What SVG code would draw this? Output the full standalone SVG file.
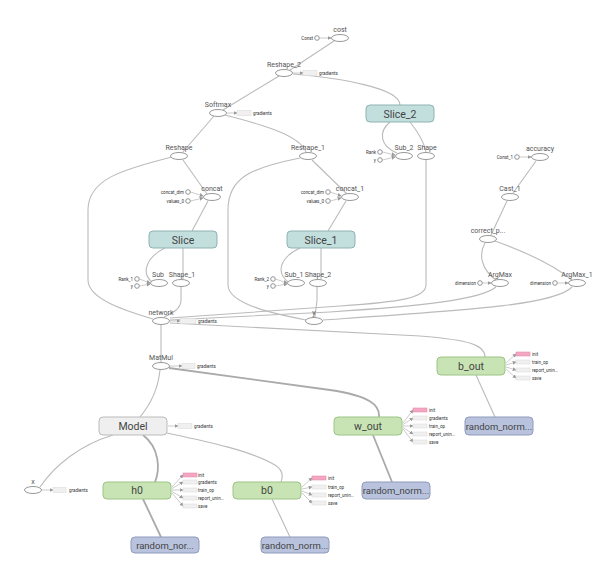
<svg xmlns="http://www.w3.org/2000/svg" width="616" height="571" viewBox="0 0 616 571">
<defs>
<marker id="ah" viewBox="0 0 6 6" refX="5" refY="3" markerWidth="4" markerHeight="4" orient="auto" markerUnits="userSpaceOnUse">
<path d="M0,0 L6,3 L0,6 Z" fill="#999"/>
</marker>
<style>
.e{fill:#fff;stroke:#999;stroke-width:1}
.c{fill:#fff;stroke:#888;stroke-width:0.9}
.l{font-family:Roboto,"Liberation Sans",sans-serif;font-size:7px;fill:#555;text-anchor:middle}
.s{font-family:Roboto,"Liberation Sans",sans-serif;font-size:4.5px;fill:#333}
.sr{font-family:Roboto,"Liberation Sans",sans-serif;font-size:4.5px;fill:#333;text-anchor:end}
.big{font-family:Roboto,"Liberation Sans",sans-serif;font-size:10.5px;fill:#444;text-anchor:middle}
.rn{font-size:9.5px}
.teal{fill:#c2dedd;stroke:#8fb3b2;stroke-width:1}
.green{fill:#c8e4b4;stroke:#9cc486;stroke-width:1}
.gray{fill:#efefef;stroke:#bbb;stroke-width:1}
.blue{fill:#b9c3dd;stroke:#8f9bbd;stroke-width:1}
.gb{fill:#f0f0f0;stroke:#ddd;stroke-width:0.6}
.pk{fill:#f3a6c1;stroke:#e68fb0;stroke-width:0.6}
.ed path,.ed line{fill:none;stroke:#bbb;stroke-width:1.1}
.ed .t{stroke-width:1.8;stroke:#aaa}
.ed .sm{stroke-width:0.6;stroke:#aaa}
</style>
</defs>
<rect width="616" height="571" fill="#fff"/>

<g id="connectors" class="ed">
<line x1="319.5" y1="38" x2="331" y2="38" class="sm" marker-end="url(#ah)"/>
<path d="M290,70 L334,41"/>
<path d="M223,110 L279,76"/>
<path d="M400,105 C400,88 340,78 293,74"/>
<path d="M182,153 L214,116"/>
<path d="M225,115 C260,124 300,135 306,152"/>
<path d="M207,194 L183,160"/>
<line x1="190.5" y1="192" x2="203" y2="196" class="sm" marker-end="url(#ah)"/>
<line x1="190.5" y1="201" x2="203" y2="198" class="sm" marker-end="url(#ah)"/>
<path d="M192,231 L208,201"/>
<path d="M165,248 C148,256 140,272 152,282"/>
<path d="M183,279 L183,248"/>
<line x1="139.5" y1="279" x2="150" y2="283" class="sm" marker-end="url(#ah)"/>
<line x1="139.5" y1="286" x2="150" y2="284" class="sm" marker-end="url(#ah)"/>
<path d="M172,157 C120,170 88,180 88,210 L88,280 C88,300 130,312 153,319"/>
<path d="M181,287 L181,300 C181,310 170,314 164,317"/>
<path d="M347,194 L312,160"/>
<line x1="330.5" y1="192" x2="341" y2="196" class="sm" marker-end="url(#ah)"/>
<line x1="330.5" y1="201" x2="341" y2="198" class="sm" marker-end="url(#ah)"/>
<path d="M328,231 L346,201"/>
<path d="M300,248 C283,256 274,270 288,282"/>
<path d="M321,279 L321,248"/>
<line x1="275.5" y1="279" x2="287" y2="283" class="sm" marker-end="url(#ah)"/>
<line x1="275.5" y1="286" x2="287" y2="284" class="sm" marker-end="url(#ah)"/>
<path d="M300,158 C250,168 228,178 228,210 L228,285 C228,305 280,315 306,320"/>
<path d="M317,287 L317,300 L315,317"/>
<path d="M390,122 C378,132 380,146 397,153"/>
<path d="M410,122 C418,132 424,142 426,152"/>
<line x1="382.5" y1="152" x2="395" y2="155" class="sm" marker-end="url(#ah)"/>
<line x1="382.5" y1="160" x2="395" y2="157" class="sm" marker-end="url(#ah)"/>
<path d="M426,160 L426,285 C426,298 400,302 340,306 L170,318"/>
<path d="M496,287 C480,300 420,306 330,312 L170,320"/>
<path d="M572,287 C555,305 470,310 323,320"/>
<path d="M170,323 L420,336 C470,340 485,345 485,357"/>
<path d="M161,325 L161,362"/>
<path d="M169,368 L330,390 C370,396 380,405 379,417" class="t"/>
<path d="M160,370 C158,390 150,405 140,417"/>
<path d="M113,435 C80,445 55,465 40,487"/>
<path d="M143,435 C160,448 160,470 155,482" class="t"/>
<path d="M167,433 C200,440 250,450 275,465 C283,470 283,477 281,482"/>
<path d="M143,499 L161,537" class="t"/>
<path d="M272,499 L290,537"/>
<path d="M373,435 L392,482" class="t"/>
<path d="M476,375 L495,417"/>
<line x1="519.5" y1="157" x2="531" y2="157" class="sm" marker-end="url(#ah)"/>
<path d="M513,193 L536,161"/>
<path d="M491,235 L507,201"/>
<path d="M496,280 C482,270 478,255 485,243"/>
<path d="M572,280 C550,262 520,250 495,241"/>
<line x1="482.5" y1="283" x2="491" y2="283" class="sm" marker-end="url(#ah)"/>
<line x1="557.5" y1="283" x2="568" y2="283" class="sm" marker-end="url(#ah)"/>
<line x1="292.5" y1="73" x2="303" y2="73" class="sm" marker-end="url(#ah)"/>
<line x1="226.5" y1="113" x2="237" y2="113" class="sm" marker-end="url(#ah)"/>
<line x1="169.5" y1="321" x2="180" y2="321" class="sm" marker-end="url(#ah)"/>
<line x1="169.5" y1="366" x2="182" y2="366" class="sm" marker-end="url(#ah)"/>
<line x1="168" y1="426" x2="178" y2="426" class="sm" marker-end="url(#ah)"/>
<line x1="41.5" y1="490" x2="53" y2="490" class="sm" marker-end="url(#ah)"/>
<line x1="172" y1="487" x2="183" y2="475" class="sm" marker-end="url(#ah)"/>
<line x1="172" y1="488.5" x2="183" y2="482" class="sm" marker-end="url(#ah)"/>
<line x1="172" y1="490" x2="183" y2="490" class="sm" marker-end="url(#ah)"/>
<line x1="172" y1="491.5" x2="183" y2="498" class="sm" marker-end="url(#ah)"/>
<line x1="172" y1="493" x2="183" y2="506" class="sm" marker-end="url(#ah)"/>
<line x1="302" y1="487" x2="312" y2="478" class="sm" marker-end="url(#ah)"/>
<line x1="302" y1="489" x2="312" y2="487" class="sm" marker-end="url(#ah)"/>
<line x1="302" y1="491" x2="312" y2="495" class="sm" marker-end="url(#ah)"/>
<line x1="302" y1="493" x2="312" y2="503" class="sm" marker-end="url(#ah)"/>
<line x1="403" y1="423" x2="413" y2="410" class="sm" marker-end="url(#ah)"/>
<line x1="403" y1="424.5" x2="413" y2="418" class="sm" marker-end="url(#ah)"/>
<line x1="403" y1="426" x2="413" y2="426" class="sm" marker-end="url(#ah)"/>
<line x1="403" y1="427.5" x2="413" y2="434" class="sm" marker-end="url(#ah)"/>
<line x1="403" y1="429" x2="413" y2="442" class="sm" marker-end="url(#ah)"/>
<line x1="506" y1="363" x2="516" y2="354" class="sm" marker-end="url(#ah)"/>
<line x1="506" y1="365" x2="516" y2="362" class="sm" marker-end="url(#ah)"/>
<line x1="506" y1="367" x2="516" y2="370" class="sm" marker-end="url(#ah)"/>
<line x1="506" y1="369" x2="516" y2="378" class="sm" marker-end="url(#ah)"/>
</g>

<g id="cost"><ellipse class="e" cx="340" cy="38" rx="8.5" ry="3.5"/><text class="l" x="340" y="32">cost</text></g>
<g id="Const"><circle class="c" cx="317" cy="38" r="2.3"/><text class="sr" x="313" y="39.6">Const</text></g>
<g id="Reshape_2"><ellipse class="e" cx="284" cy="73" rx="8.5" ry="3.5"/><text class="l" x="284" y="67">Reshape_2</text>
<rect class="gb" x="303" y="70.5" width="14" height="5"/><text class="s" x="319" y="74.6">gradients</text></g>
<g id="Softmax"><ellipse class="e" cx="218" cy="113" rx="8.5" ry="3.5"/><text class="l" x="218" y="107">Softmax</text>
<rect class="gb" x="237" y="110.5" width="14" height="5"/><text class="s" x="253" y="114.6">gradients</text></g>
<g id="Slice_2"><rect class="teal" x="366" y="105" width="68" height="17" rx="4"/><text class="big" x="400" y="117.5">Slice_2</text></g>
<g id="Reshape"><ellipse class="e" cx="179" cy="156" rx="8.5" ry="3.5"/><text class="l" x="179" y="150">Reshape</text></g>
<g id="Reshape_1"><ellipse class="e" cx="308" cy="156" rx="8.5" ry="3.5"/><text class="l" x="308" y="150">Reshape_1</text></g>
<g id="Sub_2"><ellipse class="e" cx="404" cy="156" rx="8.5" ry="3.5"/><text class="l" x="404" y="150">Sub_2</text></g>
<g id="Shape"><ellipse class="e" cx="426" cy="156" rx="8.5" ry="3.5"/><text class="l" x="427" y="150">Shape</text></g>
<g id="Rank"><circle class="c" cx="380" cy="152" r="2.3"/><text class="sr" x="376" y="153.6">Rank</text></g>
<g id="y_2"><circle class="c" cx="380" cy="160" r="2.3"/><text class="sr" x="376" y="161.6">y</text></g>
<g id="concat"><ellipse class="e" cx="212" cy="197" rx="8.5" ry="3.5"/><text class="l" x="212" y="191">concat</text></g>
<g id="concat_dim"><circle class="c" cx="188" cy="192" r="2.3"/><text class="sr" x="184" y="193.6">concat_dim</text></g>
<g id="values_0"><circle class="c" cx="188" cy="201" r="2.3"/><text class="sr" x="184" y="202.6">values_0</text></g>
<g id="concat_1"><ellipse class="e" cx="350" cy="197" rx="8.5" ry="3.5"/><text class="l" x="350" y="191">concat_1</text></g>
<g id="concat_dim_1"><circle class="c" cx="328" cy="192" r="2.3"/><text class="sr" x="324" y="193.6">concat_dim</text></g>
<g id="values_0_1"><circle class="c" cx="328" cy="201" r="2.3"/><text class="sr" x="324" y="202.6">values_0</text></g>
<g id="Slice"><rect class="teal" x="149" y="231" width="68" height="17" rx="4"/><text class="big" x="183" y="243.5">Slice</text></g>
<g id="Slice_1"><rect class="teal" x="287" y="231" width="68" height="17" rx="4"/><text class="big" x="321" y="243.5">Slice_1</text></g>
<g id="Sub"><ellipse class="e" cx="159" cy="283" rx="8.5" ry="3.5"/><text class="l" x="158" y="277">Sub</text></g>
<g id="Shape_1"><ellipse class="e" cx="181" cy="283" rx="8.5" ry="3.5"/><text class="l" x="182" y="277">Shape_1</text></g>
<g id="Rank_1"><circle class="c" cx="137" cy="279" r="2.3"/><text class="sr" x="133" y="280.6">Rank_1</text></g>
<g id="y_1"><circle class="c" cx="137" cy="286" r="2.3"/><text class="sr" x="133" y="287.6">y</text></g>
<g id="Sub_1"><ellipse class="e" cx="296" cy="283" rx="8.5" ry="3.5"/><text class="l" x="294" y="277">Sub_1</text></g>
<g id="Shape_2"><ellipse class="e" cx="318" cy="283" rx="8.5" ry="3.5"/><text class="l" x="318" y="277">Shape_2</text></g>
<g id="Rank_2"><circle class="c" cx="273" cy="279" r="2.3"/><text class="sr" x="269" y="280.6">Rank_2</text></g>
<g id="y_3"><circle class="c" cx="273" cy="286" r="2.3"/><text class="sr" x="269" y="287.6">y</text></g>
<g id="accuracy"><ellipse class="e" cx="540" cy="157" rx="8.5" ry="3.5"/><text class="l" x="540" y="151">accuracy</text></g>
<g id="Const_1"><circle class="c" cx="517" cy="157" r="2.3"/><text class="sr" x="513" y="158.6">Const_1</text></g>
<g id="Cast_1"><ellipse class="e" cx="510" cy="197" rx="8.5" ry="3.5"/><text class="l" x="510" y="191">Cast_1</text></g>
<g id="correct_pred"><ellipse class="e" cx="488" cy="239" rx="8.5" ry="3.5"/><text class="l" x="488" y="233">correct_p...</text></g>
<g id="ArgMax"><ellipse class="e" cx="500" cy="283" rx="8.5" ry="3.5"/><text class="l" x="500" y="277">ArgMax</text></g>
<g id="dimension"><circle class="c" cx="480" cy="283" r="2.3"/><text class="sr" x="476" y="284.6">dimension</text></g>
<g id="ArgMax_1"><ellipse class="e" cx="577" cy="283" rx="8.5" ry="3.5"/><text class="l" x="577" y="277">ArgMax_1</text></g>
<g id="dimension_1"><circle class="c" cx="555" cy="283" r="2.3"/><text class="sr" x="551" y="284.6">dimension</text></g>
<g id="network"><ellipse class="e" cx="161" cy="321" rx="8.5" ry="3.5"/><text class="l" x="161" y="315">network</text>
<rect class="gb" x="180" y="318.5" width="16" height="5"/><text class="s" x="198" y="322.6">gradients</text></g>
<g id="y"><ellipse class="e" cx="314" cy="321" rx="8.5" ry="3.5"/><text class="l" x="314" y="315">y</text></g>
<g id="MatMul"><ellipse class="e" cx="161" cy="366" rx="8.5" ry="3.5"/><text class="l" x="161" y="360">MatMul</text>
<rect class="gb" x="182" y="363.5" width="13" height="5"/><text class="s" x="197" y="367.6">gradients</text></g>
<g id="b_out"><rect class="green" x="437" y="357" width="68" height="18" rx="4"/><text class="big" x="471" y="369.5">b_out</text>
<rect class="pk" x="516" y="352" width="14" height="4"/><text class="s" x="532" y="355.6">init</text>
<rect class="gb" x="516" y="360" width="14" height="4"/><text class="s" x="532" y="363.6">train_op</text>
<rect class="gb" x="516" y="368" width="14" height="4"/><text class="s" x="532" y="371.6">report_unin...</text>
<rect class="gb" x="516" y="376" width="14" height="4"/><text class="s" x="532" y="379.6">save</text></g>
<g id="Model"><rect class="gray" x="99" y="417" width="68" height="18" rx="4"/><text class="big" x="133" y="429.5">Model</text>
<rect class="gb" x="178" y="423.5" width="14" height="5"/><text class="s" x="194" y="427.6">gradients</text></g>
<g id="w_out"><rect class="green" x="334" y="417" width="68" height="18" rx="4"/><text class="big" x="368" y="429.5">w_out</text>
<rect class="pk" x="413" y="408" width="14" height="4"/><text class="s" x="429" y="411.6">init</text>
<rect class="gb" x="413" y="416" width="14" height="4"/><text class="s" x="429" y="419.6">gradients</text>
<rect class="gb" x="413" y="424" width="14" height="4"/><text class="s" x="429" y="427.6">train_op</text>
<rect class="gb" x="413" y="432" width="14" height="4"/><text class="s" x="429" y="435.6">report_unin...</text>
<rect class="gb" x="413" y="440" width="14" height="4"/><text class="s" x="429" y="443.6">save</text></g>
<g id="random_normal_out"><rect class="blue" x="465" y="417" width="68" height="18" rx="4"/><text class="big rn" x="499" y="429.5">random_norm...</text></g>
<g id="x"><ellipse class="e" cx="33" cy="490" rx="8.5" ry="3.5"/><text class="l" x="33" y="484">x</text>
<rect class="gb" x="53" y="487.5" width="13" height="5"/><text class="s" x="69" y="491.6">gradients</text></g>
<g id="h0"><rect class="green" x="103" y="482" width="68" height="17" rx="4"/><text class="big" x="137" y="494">h0</text>
<rect class="pk" x="183" y="473" width="14" height="4"/><text class="s" x="198" y="476.6">init</text>
<rect class="gb" x="183" y="480" width="14" height="4"/><text class="s" x="198" y="483.6">gradients</text>
<rect class="gb" x="183" y="488" width="14" height="4"/><text class="s" x="198" y="491.6">train_op</text>
<rect class="gb" x="183" y="496" width="14" height="4"/><text class="s" x="198" y="499.6">report_unin...</text>
<rect class="gb" x="183" y="504" width="14" height="4"/><text class="s" x="198" y="507.6">save</text></g>
<g id="b0"><rect class="green" x="233" y="482" width="68" height="17" rx="4"/><text class="big" x="267" y="494">b0</text>
<rect class="pk" x="312" y="476" width="14" height="4"/><text class="s" x="328" y="479.6">init</text>
<rect class="gb" x="312" y="485" width="14" height="4"/><text class="s" x="328" y="488.6">train_op</text>
<rect class="gb" x="312" y="493" width="14" height="4"/><text class="s" x="328" y="496.6">report_unin...</text>
<rect class="gb" x="312" y="501" width="14" height="4"/><text class="s" x="328" y="504.6">save</text></g>
<g id="random_normal_w_out"><rect class="blue" x="362" y="482" width="68" height="17" rx="4"/><text class="big rn" x="396" y="494">random_norm...</text></g>
<g id="random_normal_h0"><rect class="blue" x="131" y="537" width="68" height="16" rx="4"/><text class="big rn" x="165" y="548.5">random_nor...</text></g>
<g id="random_normal_b0"><rect class="blue" x="261" y="537" width="68" height="16" rx="4"/><text class="big rn" x="295" y="548.5">random_norm...</text></g>
</svg>
